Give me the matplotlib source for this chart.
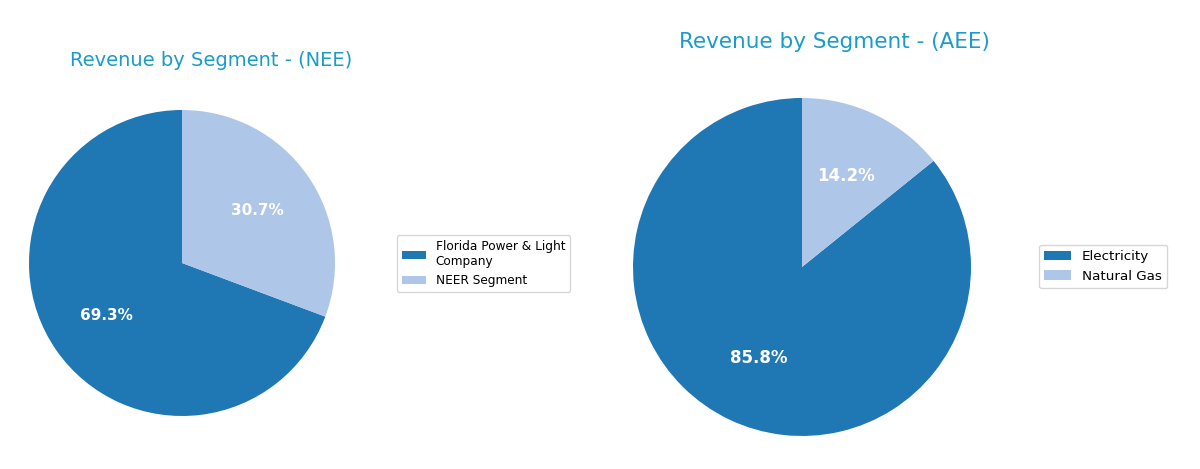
import matplotlib
matplotlib.use("Agg")
import matplotlib.pyplot as plt

nee_labels = ["Florida Power & Light\nCompany", "NEER Segment"]
nee_values = [69.3, 30.7]
aee_labels = ["Electricity", "Natural Gas"]
aee_values = [85.8, 14.2]
colors = ["#1f77b4", "#aec7e8"]
title_color = "#1a9cc9"

fig = plt.figure(figsize=(12, 4.69), dpi=100)

def draw(rect, values, labels, pct_size):
    ax = fig.add_axes(rect)
    wedges, texts, autotexts = ax.pie(values, colors=colors, startangle=90,
                                      autopct="%1.1f%%", pctdistance=0.6,
                                      textprops=dict(color="white", fontweight="bold", fontsize=pct_size))
    ax.set_xlim(-1, 1)
    ax.set_ylim(-1, 1)
    ax.set_aspect("equal")
    return ax, wedges

ax1, w1 = draw([0.02417, 0.1130, 0.255, 0.6525], nee_values, nee_labels, 11)
ax2, w2 = draw([0.5275, 0.0704, 0.28167, 0.7207], aee_values, aee_labels, 12)

fig.text(0.1758, 1 - 60 / 469, "Revenue by Segment - (NEE)", ha="center", va="center",
         fontsize=14, color=title_color)
fig.text(0.695, 1 - 42 / 469, "Revenue by Segment - (AEE)", ha="center", va="center",
         fontsize=15.5, color=title_color)

fig.legend(w1, nee_labels, loc="center left", bbox_to_anchor=(397 / 1200, 1 - 263.5 / 469),
           borderaxespad=0, fontsize=8.7)
fig.legend(w2, aee_labels, loc="center left", bbox_to_anchor=(1039 / 1200, 1 - 266.5 / 469),
           borderaxespad=0, fontsize=9.7)

fig.savefig("out.png", dpi=100)
